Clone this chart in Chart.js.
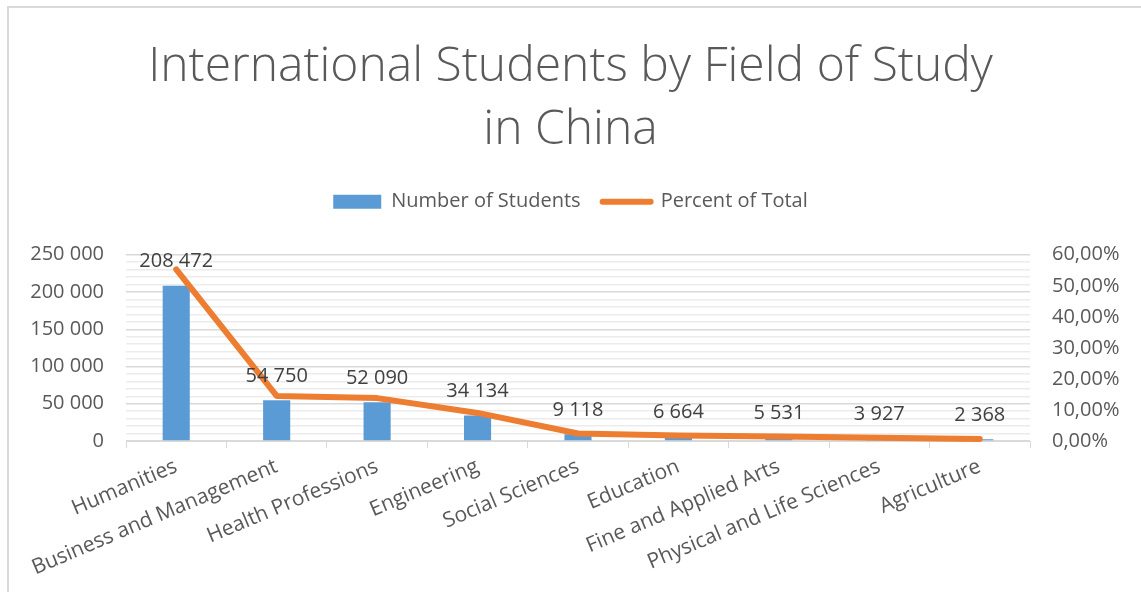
<!DOCTYPE html>
<html>
<head>
<meta charset="utf-8">
<script src="https://cdn.jsdelivr.net/npm/chart.js@4/dist/chart.umd.min.js"></script>
<style>
  html, body { margin: 0; padding: 0; background: #fff; overflow: hidden; }
  #wrap { position: relative; width: 1141px; height: 592px; }
  #frame { position: absolute; left: 7px; top: 6px; width: 1200px; height: 700px;
           border-left: 2px solid #d9d9d9; border-top: 2px solid #d9d9d9; }
  canvas { position: absolute; left: 0; top: 0; }
</style>
</head>
<body>
<div id="wrap">
  <div id="frame"></div>
  <canvas id="myChart" width="1141" height="592"></canvas>
</div>
<script>
// chart data
var fields = ["Humanities", "Business and Management", "Health Professions", "Engineering",
  "Social Sciences", "Education", "Fine and Applied Arts", "Physical and Life Sciences", "Agriculture"];
var studentCounts = [208472, 54750, 52090, 34134, 9118, 6664, 5531, 3927, 2368];
var percentOfTotal = [55.29, 14.52, 13.82, 9.05, 2.42, 1.77, 1.47, 1.04, 0.63];
var leftTicks = [0, 50000, 100000, 150000, 200000, 250000];
var rightTicks = [0, 10, 20, 30, 40, 50, 60];

var textGray = "#595959";
var fontName = "'Open Sans', 'DejaVu Sans', sans-serif";

//format 208472 as "208 472"
function spaced(n){
	return String(n).replace(/\B(?=(\d{3})+(?!\d))/g, " ");
}

//draw the value above each bar
var barLabels = {
	id: "barLabels",
	afterDatasetsDraw: function(chart){
		var ctx = chart.ctx;
		var meta = chart.getDatasetMeta(0);
		ctx.save();
		ctx.font = "20px " + fontName;
		ctx.fillStyle = "#404040";
		ctx.textAlign = "center";
		ctx.textBaseline = "middle";
		for(var i = 0; i < meta.data.length; i++){
			var bar = meta.data[i];
			ctx.fillText(spaced(studentCounts[i]), bar.x, bar.y - 24);
		}
		ctx.restore();
	}
};

//push the plot area down below the legend
var legendGap = {
	id: "legendGap",
	beforeInit: function(chart){
		var fit = chart.legend.fit;
		chart.legend.fit = function(){
			fit.bind(chart.legend)();
			this.height += 33;
		};
	}
};

var ctx = document.getElementById("myChart");
var myChart = new Chart(ctx, {
	type: "bar",
	data: {
		labels: fields,
		datasets: [{
			label: "Number of Students",
			data: studentCounts,
			backgroundColor: "#5b9bd5",
			borderWidth: 0,
			categoryPercentage: 1,
			barPercentage: 0.27,
			yAxisID: "y",
			order: 1
		}, {
			type: "line",
			label: "Percent of Total",
			data: percentOfTotal,
			borderColor: "#ed7d31",
			backgroundColor: "#ed7d31",
			borderWidth: 6,
			borderCapStyle: "round",
			borderJoinStyle: "round",
			pointRadius: 0,
			tension: 0,
			clip: false,
			yAxisID: "y1",
			order: 0
		}]
	},
	plugins: [barLabels, legendGap],
	options: {
		responsive: false,
		animation: false,
		layout: { padding: { left: 0, right: 0, top: 0, bottom: 0 } },
		plugins: {
			tooltip: { enabled: false },
			title: {
				display: true,
				text: ["International Students by Field of Study", "in China"],
				color: textGray,
				font: { family: fontName, size: 48, weight: 300, lineHeight: 1.31 },
				padding: { top: 36, bottom: 8 }
			},
			legend: {
				display: true,
				labels: {
					color: textGray,
					font: { family: fontName, size: 20 },
					usePointStyle: true,
					pointStyleWidth: 48,
					boxHeight: 14,
					padding: 22,
					generateLabels: function(chart){
						return [{
							text: "Number of Students",
							fillStyle: "#5b9bd5",
							strokeStyle: "#5b9bd5",
							lineWidth: 0,
							pointStyle: "rect",
							fontColor: textGray,
							datasetIndex: 0
						}, {
							text: "Percent of Total",
							fillStyle: "#ed7d31",
							strokeStyle: "#ed7d31",
							lineWidth: 6,
							lineCap: "round",
							pointStyle: "line",
							fontColor: textGray,
							datasetIndex: 1
						}];
					}
				}
			}
		},
		scales: {
			x: {
				offset: true,
				grid: {
					offset: true,
					drawOnChartArea: false,
					drawTicks: true,
					tickLength: 7,
					color: "#d9d9d9"
				},
				border: { color: "#d9d9d9", width: 1 },
				ticks: {
					color: textGray,
					font: { family: fontName, size: 21 },
					minRotation: 23,
					maxRotation: 23,
					autoSkip: false,
					padding: 6
				},
				afterFit: function(scale){ scale.height = 151; }
			},
			y: {
				position: "left",
				min: 0,
				max: 250000,
				afterBuildTicks: function(scale){
					//ticks every 10 000, labelled every 50 000
					var t = [];
					for(var v = 0; v <= 250000; v += 10000){ t.push({ value: v }); }
					scale.ticks = t;
				},
				grid: {
					drawTicks: false,
					color: function(c){
						if(c.tick && leftTicks.indexOf(c.tick.value) >= 0) return "#d9d9d9";
						return "#ececec";
					},
					lineWidth: 1.5
				},
				border: { display: false },
				ticks: {
					autoSkip: false,
					color: textGray,
					font: { family: fontName, size: 20 },
					padding: 22,
					callback: function(v){
						return leftTicks.indexOf(v) >= 0 ? spaced(v) : "";
					}
				},
				afterFit: function(scale){ scale.width = 126; }
			},
			y1: {
				position: "right",
				min: 0,
				max: 60,
				afterBuildTicks: function(scale){
					scale.ticks = rightTicks.map(function(v){ return { value: v }; });
				},
				grid: { drawOnChartArea: false, drawTicks: false },
				border: { display: false },
				ticks: {
					autoSkip: false,
					color: textGray,
					font: { family: fontName, size: 20 },
					padding: 22,
					callback: function(v){
						return v.toFixed(2).replace(".", ",") + "%";
					}
				},
				afterFit: function(scale){ scale.width = 111; }
			}
		}
	}
});
</script>
</body>
</html>
